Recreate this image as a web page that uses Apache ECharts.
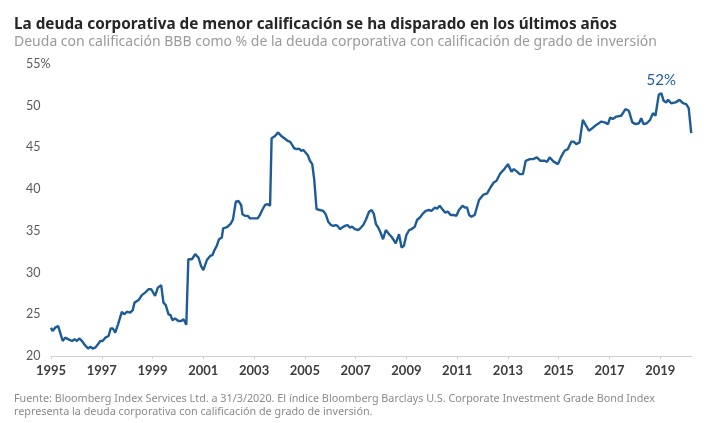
<!DOCTYPE html>
<html>
<head>
<meta charset="utf-8">
<script src="https://cdn.jsdelivr.net/npm/echarts@6/dist/echarts.min.js"></script>
<style>
  html, body { margin: 0; padding: 0; background: #fff; }
  #chart { width: 709px; height: 423px; }
</style>
</head>
<body>
<div id="chart"></div>
<script>
// fecha (año decimal) y % de deuda BBB sobre grado de inversión
var years = [
  1995.00, 1995.06, 1995.17, 1995.28, 1995.37, 1995.46, 1995.56, 1995.69, 1995.83, 1995.93,
  1996.02, 1996.11, 1996.22, 1996.31, 1996.38, 1996.46, 1996.55, 1996.64, 1996.74, 1996.85, 1996.94,
  1997.03, 1997.14, 1997.27, 1997.35, 1997.44, 1997.53, 1997.64, 1997.73, 1997.79, 1997.88, 1997.99,
  1998.12, 1998.22, 1998.29, 1998.45, 1998.58, 1998.71, 1998.84, 1998.95,
  1999.02, 1999.10, 1999.21, 1999.34, 1999.43, 1999.52, 1999.63, 1999.71, 1999.78, 1999.89,
  2000.02, 2000.13, 2000.22, 2000.33, 2000.41, 2000.55, 2000.68, 2000.81, 2000.91,
  2001.00, 2001.07, 2001.14, 2001.27, 2001.36, 2001.44, 2001.53, 2001.62, 2001.73, 2001.78, 2001.88, 2001.96,
  2002.09, 2002.17, 2002.28, 2002.38, 2002.49, 2002.54, 2002.64, 2002.75, 2002.84, 2002.93,
  2003.04, 2003.14, 2003.23, 2003.32, 2003.43, 2003.54, 2003.63, 2003.69, 2003.80, 2003.87, 2003.95,
  2004.06, 2004.19, 2004.32, 2004.41, 2004.50, 2004.58, 2004.68, 2004.77, 2004.85, 2004.94,
  2005.00, 2005.11, 2005.20, 2005.29, 2005.37, 2005.46, 2005.59, 2005.72, 2005.82, 2005.92,
  2006.03, 2006.12, 2006.21, 2006.29, 2006.38, 2006.47, 2006.58, 2006.68, 2006.77, 2006.86, 2006.97,
  2007.10, 2007.21, 2007.30, 2007.40, 2007.53, 2007.63, 2007.72, 2007.80, 2007.89, 2007.98,
  2008.08, 2008.19, 2008.32, 2008.41, 2008.50, 2008.58, 2008.64, 2008.71, 2008.81, 2008.90,
  2009.00, 2009.11, 2009.20, 2009.33, 2009.42, 2009.53, 2009.66, 2009.76, 2009.89, 2009.99,
  2010.12, 2010.21, 2010.31, 2010.42, 2010.52, 2010.64, 2010.74, 2010.87, 2010.97,
  2011.07, 2011.21, 2011.30, 2011.39, 2011.47, 2011.56, 2011.69, 2011.76, 2011.86,
  2012.02, 2012.18, 2012.31, 2012.44, 2012.55, 2012.70, 2012.83,
  2013.00, 2013.14, 2013.23, 2013.36, 2013.46, 2013.59, 2013.70, 2013.86, 2013.99,
  2014.14, 2014.28, 2014.45, 2014.54, 2014.64, 2014.80, 2014.97,
  2015.10, 2015.23, 2015.36, 2015.50, 2015.59, 2015.69, 2015.82, 2015.95,
  2016.06, 2016.19, 2016.32, 2016.48, 2016.68, 2016.81, 2016.94,
  2017.03, 2017.13, 2017.27, 2017.46, 2017.63, 2017.76, 2017.90,
  2018.03, 2018.16, 2018.25, 2018.34, 2018.47, 2018.60, 2018.71, 2018.81, 2018.94,
  2019.04, 2019.13, 2019.23, 2019.31, 2019.43, 2019.60, 2019.76, 2019.89,
  2020.02, 2020.12, 2020.22
];
var values = [
  23.4, 23.0, 23.4, 23.6, 22.7, 21.8, 22.2, 22.0, 21.8, 22.0,
  21.8, 22.1, 21.8, 21.4, 21.6, 20.9, 21.1, 20.9, 21.0, 21.4, 21.8,
  21.8, 22.2, 22.4, 23.3, 23.3, 22.8, 23.8, 24.7, 25.3, 25.0, 25.3,
  25.2, 25.5, 26.4, 26.7, 27.3, 27.6, 28.0, 28.0,
  27.9, 27.2, 28.2, 28.5, 26.4, 26.1, 25.0, 24.9, 24.3, 24.5,
  24.2, 24.2, 24.4, 23.75, 31.6, 31.6, 32.2, 31.8, 30.8,
  30.3, 30.3, 31.5, 32.0, 32.1, 32.7, 33.2, 34.0, 34.2, 35.3, 35.4, 35.5,
  35.9, 36.4, 38.5, 38.6, 38.1, 37.0, 36.8, 36.8, 36.5, 36.5,
  36.5, 36.5, 36.9, 37.5, 38.1, 38.2, 38.0, 46.1, 46.3, 46.2, 46.8,
  46.4, 46.1, 45.8, 45.7, 45.3, 44.9, 44.8, 44.85, 44.6, 44.7,
  44.6, 44.1, 43.4, 43.0, 41.1, 37.6, 37.5, 37.4, 37.0, 36.1,
  35.7, 35.6, 35.7, 35.6, 35.2, 35.4, 35.6, 35.7, 35.4, 35.5, 35.2,
  35.1, 35.4, 35.7, 36.3, 37.3, 37.5, 37.0, 35.8, 35.4, 34.8,
  34.0, 35.1, 34.6, 34.3, 33.9, 33.5, 33.6, 34.6, 33.0, 33.2,
  34.5, 35.1, 35.2, 35.5, 36.3, 36.6, 37.1, 37.4, 37.5, 37.4,
  37.8, 37.65, 38.0, 37.6, 37.2, 37.3, 36.9, 36.9, 36.8,
  37.5, 38.0, 37.8, 37.8, 36.9, 36.7, 36.9, 37.0, 38.7,
  39.3, 39.5, 40.2, 40.8, 41.0, 41.9, 42.3,
  43.0, 42.1, 42.4, 42.1, 41.8, 41.8, 43.4, 43.6, 43.6,
  43.8, 43.4, 43.4, 43.25, 43.8, 43.3, 43.0,
  43.9, 44.6, 44.8, 45.7, 45.7, 45.4, 45.6, 48.3,
  47.7, 47.0, 47.3, 47.7, 48.1, 48.0, 47.8,
  48.6, 48.4, 48.7, 48.8, 49.6, 49.4, 48.0,
  47.8, 47.9, 48.5, 47.8, 47.9, 48.3, 49.1, 48.8, 51.3,
  51.5, 50.6, 50.4, 50.7, 50.3, 50.4, 50.7, 50.3,
  50.2, 49.7, 46.7
];
var yTicks = [20, 25, 30, 35, 40, 45, 50, 55];
var peakLabel = '52%';

var titleText = 'La deuda corporativa de menor calificación se ha disparado en los últimos años';
var subText = 'Deuda con calificación BBB como % de la deuda corporativa con calificación de grado de inversión';
var sourceText = 'Fuente: Bloomberg Index Services Ltd. a 31/3/2020. El índice Bloomberg Barclays U.S. Corporate Investment Grade Bond Index\nrepresenta la deuda corporativa con calificación de grado de inversión.';

var lineColor = '#1d5c97';
var font = 'Lato';
var textFont = 'Noto Sans';

var chart = echarts.init(document.getElementById('chart'));

var seriesData = [];
for (var i = 0; i < years.length; i++) {
  seriesData.push([years[i], values[i]]);
}

var option = {
  backgroundColor: '#ffffff',
  animation: false,
  title: [
    {
      text: titleText,
      left: 9, top: 12,
      textStyle: { fontFamily: textFont, fontSize: 15.3, fontWeight: 'bold', color: '#262626' }
    },
    {
      text: subText,
      left: 9, top: 30,
      textStyle: { fontFamily: textFont, fontSize: 14, fontWeight: 'normal', color: '#9a9a9a' }
    },
    {
      text: sourceText,
      left: 9, top: 387,
      textStyle: { fontFamily: textFont, fontSize: 10.8, fontWeight: 'normal', color: '#8a8a8a', lineHeight: 13.5 }
    }
  ],
  grid: { left: 51, right: 17, top: 64, bottom: 67 },
  xAxis: {
    type: 'value',
    min: 1995,
    max: 2020.25,
    interval: 2,
    axisLine: { show: true, lineStyle: { color: '#cfcfcf', width: 1 } },
    axisTick: { show: true, length: 3, lineStyle: { color: '#cfcfcf' } },
    splitLine: { show: false },
    axisLabel: {
      showMaxLabel: false,
      margin: 8,
      color: '#3d3d3d',
      fontFamily: font,
      fontSize: 13,
      fontWeight: 'bold',
      formatter: function (v) { return String(v); }
    }
  },
  yAxis: {
    type: 'value',
    min: yTicks[0],
    max: yTicks[yTicks.length - 1],
    interval: 5,
    axisLine: { show: false },
    axisTick: { show: false },
    splitLine: { show: false },
    axisLabel: {
      align: 'left',
      margin: 25,
      color: '#5a5a5a',
      fontFamily: font,
      fontSize: 12.5,
      formatter: function (v) { return v === 55 ? '55%' : String(v); }
    }
  },
  series: [
    {
      type: 'line',
      data: seriesData,
      showSymbol: false,
      lineStyle: { color: lineColor, width: 2.4 },
      markPoint: {
        symbol: 'circle',
        symbolSize: 0,
        data: [{ type: 'max' }],
        label: {
          show: true,
          position: 'top',
          distance: 6,
          formatter: peakLabel,
          color: lineColor,
          fontFamily: font,
          fontSize: 15
        }
      }
    }
  ]
};

chart.setOption(option);
</script>
</body>
</html>
